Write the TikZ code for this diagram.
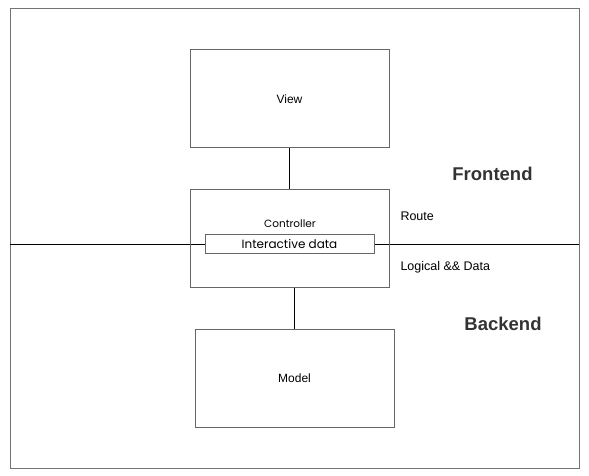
\documentclass[tikz,border=0pt]{standalone}
\usepackage{fontspec}
\setmainfont{Liberation Sans}
\newfontfamily\geofont{Poppins}
\begin{document}
\begin{tikzpicture}[x=1pt,y=-1pt,line width=1pt,
  every node/.style={font=\fontsize{12}{14}\selectfont},
  layer/.style={draw=black!60,minimum width=199pt,minimum height=98pt,inner sep=0pt},
  side/.style={font=\fontsize{12.5}{14}\selectfont,anchor=west,inner sep=0pt},
  tier/.style={font=\fontsize{18.5}{21}\selectfont\bfseries,text=black!80}]
\useasboundingbox (0,0) rectangle (589,476);
% outer frame
\draw[black!55] (10,9) rectangle (579,468);
% frontend / backend split
\coordinate (split west) at (10,244);
\coordinate (split east) at (579,244);
\draw[black] (split west) -- (split east);
% layers
\node[layer] (view) at (289.5,99) {View};
\node[layer] (ctrl) at (289.5,238.5) {};
\node[font=\geofont\fontsize{10.5}{12}\selectfont] (ctrllbl) at (290,224) {Controller};
\node[draw=black!60,fill=white,minimum width=169pt,minimum height=19pt,inner sep=0pt,
  font=\geofont\fontsize{12}{13}\selectfont] (idata) at (289.5,243.5) {Interactive data};
\node[layer] (model) at (294.5,378.5) {Model};
\draw[black] (view.south) -- (ctrl.north);
\draw[black] (ctrl.south -| model.north) -- (model.north);
% side notes
\node[tier] (front) at (492.5,174) {Frontend};
\node[tier] (back) at (503,324) {Backend};
\node[side] (route) at (400,216) {Route};
\node[side] (logic) at (400,267) {Logical \&\& Data};
\end{tikzpicture}
\end{document}
